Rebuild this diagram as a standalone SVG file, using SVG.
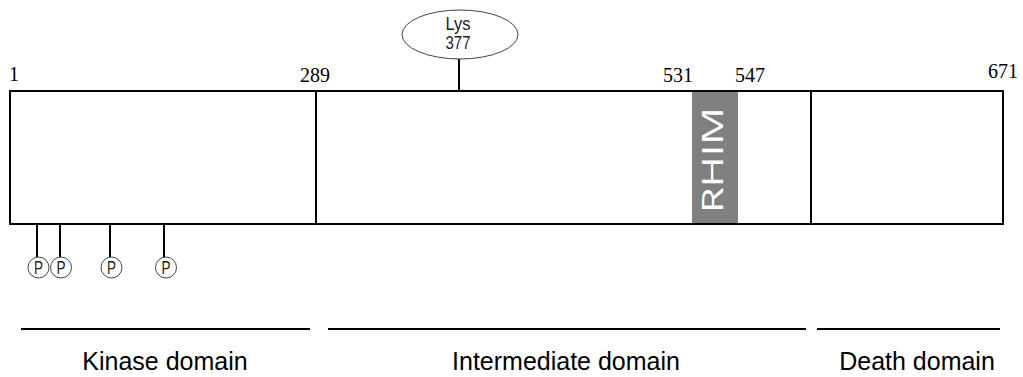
<svg xmlns="http://www.w3.org/2000/svg" width="1023" height="377" viewBox="0 0 1023 377">
  <style>
    .line { stroke: #000; stroke-width: 2; fill: none; }
    .num { font-family: "Liberation Serif", serif; font-size: 20px; fill: #000; }
    .dom { font-family: "Liberation Sans", Arial, sans-serif; font-size: 25px; fill: #000; text-anchor: middle; }
    .small { font-family: "Liberation Sans", Arial, sans-serif; font-size: 18px; fill: #222; text-anchor: middle; }
    .pcirc { fill: #fff; stroke: #444; stroke-width: 1; }
    .plabel { font-family: "Liberation Sans", Arial, sans-serif; font-size: 18px; fill: #222; text-anchor: middle; }
  </style>
  <rect width="1023" height="377" fill="#fff"/>

  <!-- protein backbone -->
  <g id="protein">
    <rect x="10" y="91" width="993" height="133" class="line" fill="#fff"/>
    <rect id="rhim" x="692" y="92" width="46" height="131" fill="#808080"/>
    <text transform="translate(723 160) rotate(-90)" x="0" y="0" text-anchor="middle" font-family="'Open Sans', 'Liberation Sans', sans-serif" font-size="29" fill="#fff" textLength="106" lengthAdjust="spacingAndGlyphs">RHIM</text>
    <line x1="316" y1="91" x2="316" y2="224" class="line"/>
    <line x1="811" y1="91" x2="811" y2="224" class="line"/>
  </g>

  <!-- residue positions -->
  <g id="positions">
    <text x="9" y="81" class="num">1</text>
    <text x="300" y="82" class="num">289</text>
    <text x="663" y="82" class="num">531</text>
    <text x="735" y="82" class="num">547</text>
    <text x="988" y="78" class="num">671</text>
  </g>

  <!-- modification sites -->
  <g id="connectors">
    <line x1="459" y1="59" x2="459" y2="91" class="line"/>
    <line x1="37" y1="224" x2="37" y2="257" class="line"/>
    <line x1="60" y1="224" x2="60" y2="257" class="line"/>
    <line x1="110" y1="224" x2="110" y2="257" class="line"/>
    <line x1="164" y1="224" x2="164" y2="257" class="line"/>
  </g>

  <g id="lys377">
    <ellipse cx="460" cy="34.5" rx="58" ry="24.5" fill="#fff" stroke="#444" stroke-width="1"/>
    <text x="458" y="30" class="small" textLength="25" lengthAdjust="spacingAndGlyphs">Lys</text>
    <text x="458" y="49" class="small" textLength="25" lengthAdjust="spacingAndGlyphs">377</text>
  </g>

  <g id="phospho">
    <circle cx="38.5" cy="267.5" r="10.5" class="pcirc"/>
    <circle cx="61" cy="267.5" r="10.5" class="pcirc"/>
    <circle cx="111.5" cy="267.5" r="10.5" class="pcirc"/>
    <circle cx="166" cy="267.5" r="10.5" class="pcirc"/>
    <text x="38.5" y="274" class="plabel" textLength="9" lengthAdjust="spacingAndGlyphs">P</text>
    <text x="61" y="274" class="plabel" textLength="9" lengthAdjust="spacingAndGlyphs">P</text>
    <text x="111.5" y="274" class="plabel" textLength="9" lengthAdjust="spacingAndGlyphs">P</text>
    <text x="166" y="274" class="plabel" textLength="9" lengthAdjust="spacingAndGlyphs">P</text>
  </g>

  <!-- domain extents -->
  <g id="kinase-domain">
    <line x1="21" y1="329" x2="310" y2="329" class="line"/>
    <text x="165" y="370" class="dom">Kinase domain</text>
  </g>
  <g id="intermediate-domain">
    <line x1="328" y1="329" x2="806" y2="329" class="line"/>
    <text x="566" y="370" class="dom">Intermediate domain</text>
  </g>
  <g id="death-domain">
    <line x1="817" y1="329" x2="1000" y2="329" class="line"/>
    <text x="917" y="370" class="dom">Death domain</text>
  </g>
</svg>
